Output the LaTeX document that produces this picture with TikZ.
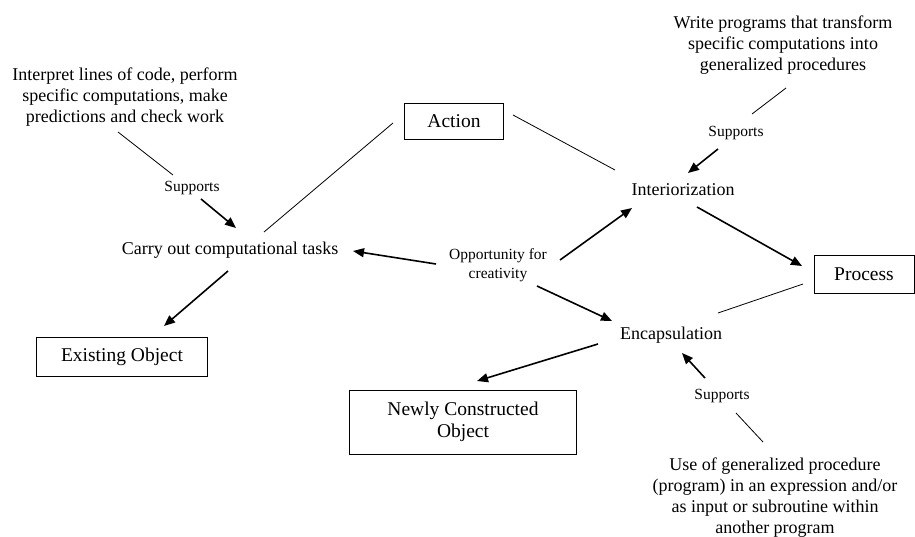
\documentclass[tikz,border=0pt]{standalone}
\usepackage{fontspec}
\setmainfont{Liberation Serif}
\usetikzlibrary{arrows.meta}

\begin{document}
\begin{tikzpicture}[x=1pt,y=-1pt,
    txt/.style={align=center,inner sep=0pt,font=\fontsize{18}{21}\selectfont},
    small/.style={align=center,inner sep=0pt,font=\fontsize{15.5}{19}\selectfont},
    box/.style={draw,line width=1pt,align=center,inner sep=0pt,font=\fontsize{19.5}{22}\selectfont},
    arr/.style={-{Triangle[length=11pt,width=9pt]},line width=1.6pt},
    ln/.style={line width=0.8pt}]
    \useasboundingbox (0,0) rectangle (915,536);
                \node[txt] (code) at (125,97) {Interpret lines of code, perform\\specific computations, make\\predictions and check work};
                \node[small] (supa) at (192,188) {Supports};
                \node[txt] (carry) at (230,250) {Carry out computational tasks};
                \node[box,minimum width=99pt,minimum height=36pt] (action) at (454,121) {Action};
                \node[txt] (write) at (783,45) {Write programs that transform\\specific computations into\\generalized procedures};
                \node[small] (supb) at (736,133) {Supports};
                \node[txt] (inter) at (683,190) {Interiorization};
                \node[box,minimum width=100pt,minimum height=38pt] (process) at (864,274) {Process};
                \node[txt] (encap) at (671,335) {Encapsulation};
                \node[small] (opp) at (498,265) {Opportunity for\\creativity};
                \node[box,minimum width=171pt,minimum height=39pt] (exist) at (122,357) {Existing Object};
                \node[box,minimum width=227pt,minimum height=64pt] (newly) at (463,422) {Newly Constructed\\Object};
                \node[small] (supc) at (722,396) {Supports};
                \node[txt] (use) at (775,498) {Use of generalized procedure\\(program) in an expression and/or\\as input or subroutine within\\another program};
                % thin links
                \draw[ln] ([shift={(-7,35)}]code.center) -- ([shift={(-19,-13)}]supa.center);
                \draw[ln] ([shift={(34,-18)}]carry.center) -- ([shift={(-61,2)}]action.center);
                \draw[ln] ([shift={(59,-6)}]action.center) -- ([shift={(-68,-20)}]inter.center);
                \draw[ln] ([shift={(3,43)}]write.center) -- ([shift={(16,-19)}]supb.center);
                \draw[ln] ([shift={(-61,10)}]process.center) -- ([shift={(47,-22)}]encap.center);
                \draw[ln] ([shift={(14,17)}]supc.center) -- ([shift={(-12,-56)}]use.center);
                % arrows
                \draw[arr] ([shift={(9,11)}]supa.center) -- ([shift={(6,-22)}]carry.center);
                \draw[arr] ([shift={(-18,16)}]supb.center) -- ([shift={(5,-17)}]inter.center);
                \draw[arr] ([shift={(14,17)}]inter.center) -- ([shift={(-62,-8)}]process.center);
                \draw[arr] ([shift={(62,-5)}]opp.center) -- ([shift={(-51,18)}]inter.center);
                \draw[arr] ([shift={(39,21)}]opp.center) -- ([shift={(-59,-14)}]encap.center);
                \draw[arr] ([shift={(-62,-1)}]opp.center) -- ([shift={(123,1)}]carry.center);
                \draw[arr] ([shift={(-2,21)}]carry.center) -- ([shift={(42,-31)}]exist.center);
                \draw[arr] ([shift={(-73,9)}]encap.center) -- ([shift={(14,-41)}]newly.center);
                \draw[arr] ([shift={(-17,-18)}]supc.center) -- ([shift={(11,18)}]encap.center);
\end{tikzpicture}
\end{document}
